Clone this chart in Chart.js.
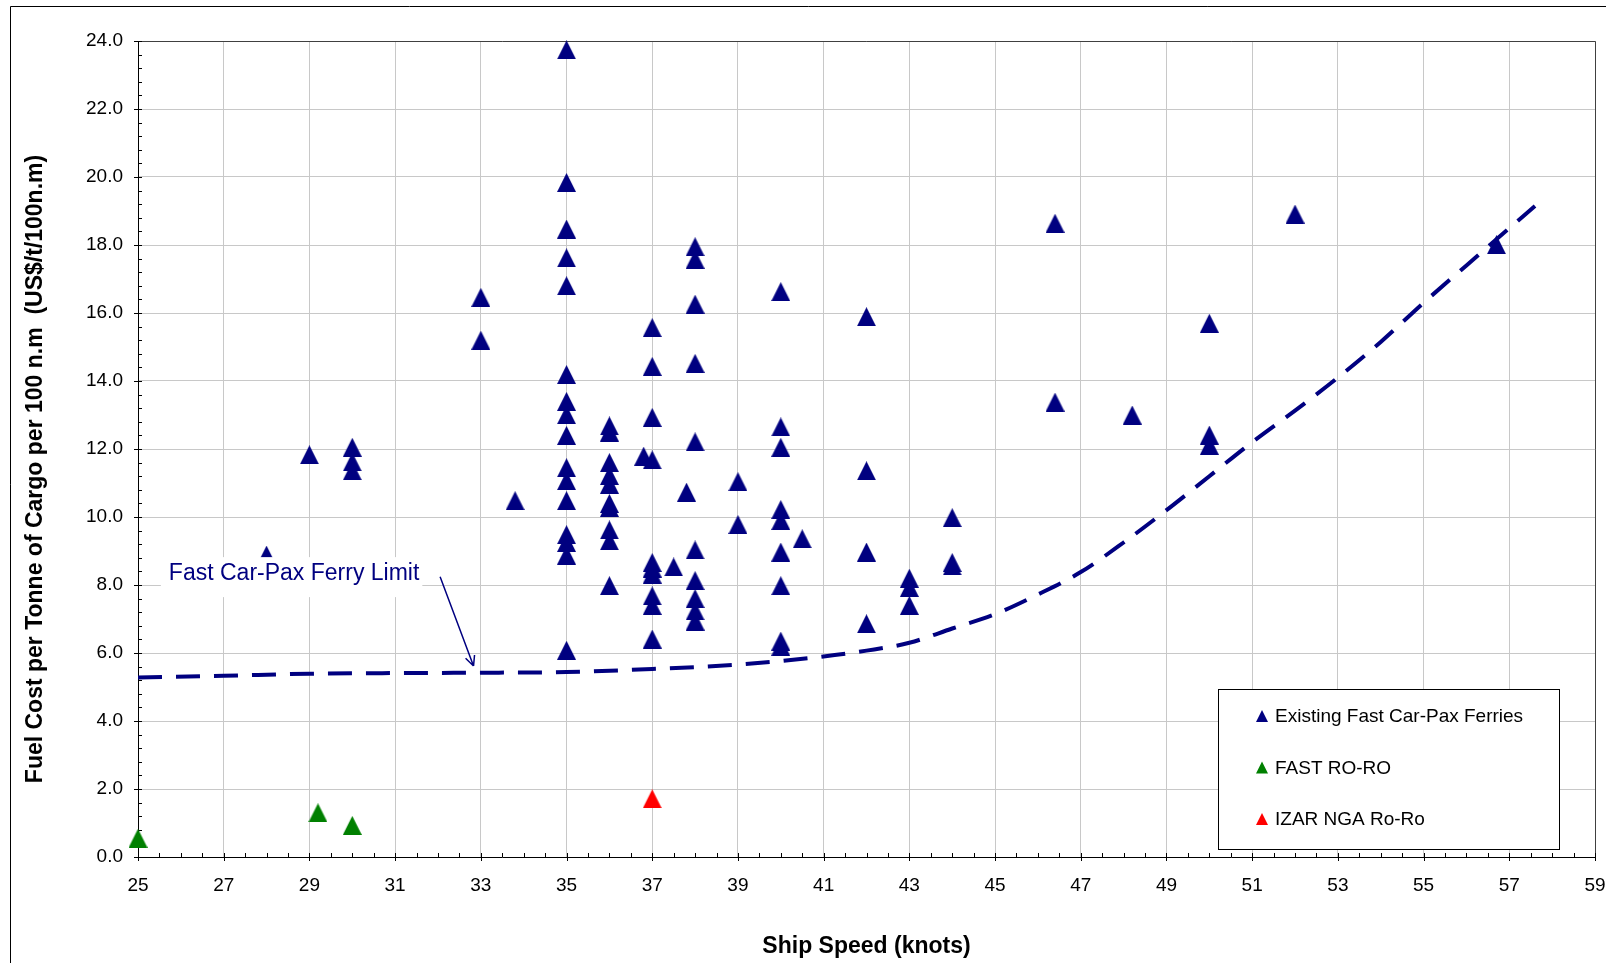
<!DOCTYPE html>
<html>
<head>
<meta charset="utf-8">
<title>Fuel Cost per Tonne of Cargo vs Ship Speed</title>
<script src="https://cdn.jsdelivr.net/npm/chart.js@4.4.1/dist/chart.umd.min.js"></script>
<style>
  html, body { margin: 0; padding: 0; background: #fff; }
  #wrap { width: 1606px; height: 963px; }
</style>
</head>
<body>
<div id="wrap"><canvas id="chart" width="1606" height="963"></canvas></div>
<script>
/* ------------------------------------------
 * DATA
 * ------------------------------------------ */
// Existing Fast Car-Pax Ferries: speed (knots) / fuel cost (US$/t/100n.m)
const ferrySpeed = [
  28, 29, 30, 30, 30, 33, 33, 33.8,
  35, 35, 35, 35, 35, 35, 35, 35, 35, 35, 35, 35, 35, 35, 35, 35,
  36, 36, 36, 36, 36, 36, 36, 36, 36, 36,
  36.8,
  37, 37, 37, 37, 37, 37, 37, 37, 37, 37,
  37.5, 37.8,
  38, 38, 38, 38, 38, 38, 38, 38, 38, 38,
  39, 39,
  40, 40, 40, 40, 40, 40, 40, 40, 40,
  40.5,
  42, 42, 42, 42,
  43, 43, 43,
  44, 44, 44,
  46.4, 46.4, 48.2, 50, 50, 50, 52, 56.7
];
const ferryCost = [
  8.88, 11.83, 12.05, 11.62, 11.36, 16.46, 15.20, 10.48,
  23.74, 19.84, 18.47, 17.62, 16.80, 14.19, 13.40, 13.01, 12.40, 11.45, 11.07, 10.48, 9.48, 9.25, 8.88, 6.08,
  12.68, 12.50, 11.60, 11.22, 10.96, 10.40, 10.28, 9.62, 9.30, 7.98,
  11.79,
  15.57, 14.43, 12.93, 11.68, 8.66, 8.50, 8.32, 7.68, 7.40, 6.41,
  8.53, 10.73,
  17.95, 17.58, 16.26, 14.52, 12.21, 9.03, 8.13, 7.60, 7.24, 6.94,
  11.04, 9.78,
  16.63, 12.65, 12.05, 10.22, 9.90, 8.97, 7.98, 6.35, 6.20,
  9.36,
  15.89, 11.36, 8.97, 6.86,
  8.20, 7.93, 7.40,
  9.98, 8.66, 8.56,
  18.64, 13.38, 13.00, 15.70, 12.41, 12.11, 18.91, 18.01
];

// FAST RO-RO
const roroSpeed = [25, 29.2, 30];
const roroCost = [0.55, 1.30, 0.93];

// IZAR NGA Ro-Ro
const izarSpeed = [37];
const izarCost = [1.71];

// Fast Car-Pax Ferry Limit curve
const limitSpeed = [25, 27, 29, 31, 33, 35, 37, 39, 41, 42, 43, 44, 45, 46, 47, 48, 49, 50, 51, 52, 53, 54, 55, 56, 57.6];
const limitCost = [5.28, 5.33, 5.39, 5.41, 5.42, 5.44, 5.53, 5.66, 5.90, 6.07, 6.30, 6.72, 7.14, 7.72, 8.38, 9.25, 10.2, 11.2, 12.2, 13.13, 14.1, 15.15, 16.3, 17.4, 19.15];

const seriesLabels = ["Existing Fast Car-Pax Ferries", "FAST RO-RO", "IZAR NGA Ro-Ro"];
const limitLabel = "Fast Car-Pax Ferry Limit";

/* ------------------------------------------
 * STYLE
 * ------------------------------------------ */
const FONT = "'Liberation Sans', Arial, sans-serif";
const NAVY = "#000080";
const GREEN = "#008000";
const RED = "#ff0000";
const GRID = "#c8c8c8";

// annotation placement in data units
const note = { x: 25.72, y: 8.32, from: [32.05, 8.24], to: [32.83, 5.62] };

const toPoints = (xs, ys) => xs.map((x, i) => ({ x, y: ys[i] }));

// Excel-like triangle marker (about as tall as it is wide)
const makeTriangle = (color, w, h) => {
  const c = document.createElement("canvas");
  c.width = w;
  c.height = h;
  const g = c.getContext("2d");
  g.fillStyle = color;
  g.beginPath();
  g.moveTo(w / 2, 0);
  g.lineTo(w, h);
  g.lineTo(0, h);
  g.closePath();
  g.fill();
  return c;
};

const markerStyle = color => ({
  pointStyle: makeTriangle(color, 19, 19),
  pointRadius: 10,
  pointHoverRadius: 10,
  backgroundColor: color,
  borderColor: color,
  showLine: false,
  clip: false
});

/* ------------------------------------------
 * PLUGINS
 * ------------------------------------------ */
const frameAndTicks = {
  id: "frameAndTicks",
  beforeDraw(chart) {
    const { ctx, width, height } = chart;
    ctx.save();
    ctx.fillStyle = "#fff";
    ctx.fillRect(0, 0, width, height);
    // outer chart border (only top and left are inside the picture)
    ctx.strokeStyle = "#000";
    ctx.lineWidth = 1;
    ctx.beginPath();
    ctx.moveTo(10.5, height);
    ctx.lineTo(10.5, 6.5);
    ctx.lineTo(width, 6.5);
    ctx.stroke();
    ctx.restore();
  },
  beforeDatasetsDraw(chart) {
    const { ctx, chartArea: a, scales: { x, y } } = chart;
    ctx.save();
    ctx.lineWidth = 1;

    // plot frame top & right
    ctx.strokeStyle = "#404040";
    ctx.beginPath();
    ctx.moveTo(a.left, a.top + 0.5);
    ctx.lineTo(a.right + 0.5, a.top + 0.5);
    ctx.lineTo(a.right + 0.5, a.bottom);
    ctx.stroke();

    // tick marks
    ctx.strokeStyle = "#000";
    ctx.beginPath();
    for (let i = 0; i <= 60; i++) {
      const py = Math.round(y.getPixelForValue(i * 0.4)) + 0.5;
      const major = i % 5 === 0;
      ctx.moveTo(a.left - (major ? 4 : 0), py);
      ctx.lineTo(a.left + 4, py);
    }
    for (let i = 0; i <= 68; i++) {
      const px = Math.round(x.getPixelForValue(25 + i * 0.5)) + 0.5;
      const major = i % 4 === 0;
      ctx.moveTo(px, a.bottom - 4);
      ctx.lineTo(px, a.bottom + (major ? 4 : 0));
    }
    ctx.stroke();

    // axis titles
    ctx.fillStyle = "#000";
    ctx.font = `bold 23px ${FONT}`;
    ctx.textAlign = "center";
    ctx.textBaseline = "middle";
    ctx.fillText("Ship Speed (knots)", (a.left + a.right) / 2, a.bottom + 90);
    ctx.translate(36, (a.top + a.bottom) / 2 + 20);
    ctx.rotate(-Math.PI / 2);
    ctx.fillText("Fuel Cost per Tonne of Cargo per 100 n.m  (US$/t/100n.m)", 0, 0);
    ctx.restore();
  },
  afterDatasetsDraw(chart) {
    const { ctx, chartArea: a, scales: { x, y } } = chart;
    ctx.save();

    // annotation label with white backing
    ctx.font = `23px ${FONT}`;
    ctx.textBaseline = "middle";
    ctx.textAlign = "left";
    const tx = x.getPixelForValue(note.x);
    const ty = y.getPixelForValue(note.y);
    const tw = ctx.measureText(limitLabel).width;
    ctx.fillStyle = "#fff";
    ctx.fillRect(tx - 8, ty - 17, tw + 11, 40);
    ctx.fillStyle = NAVY;
    ctx.fillText(limitLabel, tx, ty);

    // arrow
    const x1 = x.getPixelForValue(note.from[0]), y1 = y.getPixelForValue(note.from[1]);
    const x2 = x.getPixelForValue(note.to[0]), y2 = y.getPixelForValue(note.to[1]);
    const ang = Math.atan2(y2 - y1, x2 - x1);
    ctx.strokeStyle = NAVY;
    ctx.lineWidth = 1.5;
    ctx.beginPath();
    ctx.moveTo(x1, y1);
    ctx.lineTo(x2, y2);
    [-0.45, 0.45].forEach(d => {
      ctx.moveTo(x2, y2);
      ctx.lineTo(x2 - 11 * Math.cos(ang + d), y2 - 11 * Math.sin(ang + d));
    });
    ctx.stroke();

    // legend box
    const bx = a.right - 377, by = a.bottom - 168, bw = 341, bh = 160;
    ctx.fillStyle = "#fff";
    ctx.fillRect(bx, by, bw, bh);
    ctx.strokeStyle = "#000";
    ctx.lineWidth = 1;
    ctx.strokeRect(bx + 0.5, by + 0.5, bw, bh);
    const colors = [NAVY, GREEN, RED];
    ctx.font = `19px ${FONT}`;
    seriesLabels.forEach((label, i) => {
      const cy = by + 27 + i * 51.5;
      const cx = bx + 44;
      ctx.fillStyle = colors[i];
      ctx.beginPath();
      ctx.moveTo(cx, cy - 6);
      ctx.lineTo(cx + 6, cy + 6);
      ctx.lineTo(cx - 6, cy + 6);
      ctx.closePath();
      ctx.fill();
      ctx.fillStyle = "#000";
      ctx.fillText(label, bx + 57, cy + 1);
    });
    ctx.restore();
  }
};

/* ------------------------------------------
 * CHART
 * ------------------------------------------ */
Chart.defaults.font.family = FONT;
Chart.defaults.color = "#000";

new Chart(document.getElementById("chart"), {
  type: "scatter",
  data: {
    datasets: [
      {
        label: limitLabel,
        type: "line",
        data: toPoints(limitSpeed, limitCost),
        borderColor: NAVY,
        borderWidth: 4,
        borderDash: [24, 14],
        borderCapStyle: "butt",
        cubicInterpolationMode: "monotone",
        pointRadius: 0,
        fill: false,
        order: 1
      },
      { label: seriesLabels[0], data: toPoints(ferrySpeed, ferryCost), ...markerStyle(NAVY), order: 2 },
      { label: seriesLabels[1], data: toPoints(roroSpeed, roroCost), ...markerStyle(GREEN), order: 2 },
      { label: seriesLabels[2], data: toPoints(izarSpeed, izarCost), ...markerStyle(RED), order: 2 }
    ]
  },
  options: {
    responsive: false,
    animation: false,
    layout: { padding: { left: 0, top: 41, right: 11, bottom: 0 } },
    plugins: {
      legend: { display: false },
      tooltip: { enabled: false }
    },
    scales: {
      x: {
        type: "linear",
        min: 25,
        max: 59,
        ticks: {
          stepSize: 2,
          autoSkip: false,
          maxRotation: 0,
          padding: 17,
          font: { size: 19 },
          callback: v => v
        },
        grid: { color: GRID, drawTicks: false },
        border: { color: "#000", width: 1 },
        afterFit: s => { s.height = 106; s.paddingLeft = 0; s.paddingRight = 0; }
      },
      y: {
        min: 0,
        max: 24,
        ticks: {
          stepSize: 2,
          padding: 15,
          font: { size: 19 },
          callback: v => v.toFixed(1)
        },
        grid: { color: GRID, drawTicks: false },
        border: { color: "#000", width: 1 },
        afterFit: s => { s.width = 138; s.paddingTop = 0; s.paddingBottom = 0; }
      }
    }
  },
  plugins: [frameAndTicks]
});
</script>
</body>
</html>
